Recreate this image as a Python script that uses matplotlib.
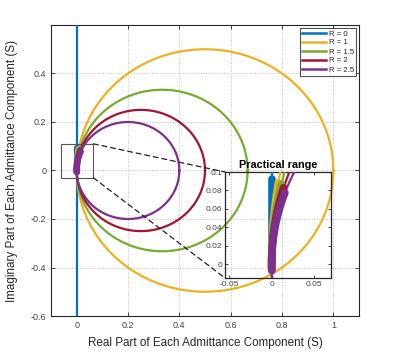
import numpy as np
import matplotlib
matplotlib.use("Agg")
import matplotlib.pyplot as plt
from matplotlib.patches import Rectangle, ConnectionPatch
from matplotlib.lines import Line2D

plt.rcParams['font.family'] = ['Liberation Sans', 'DejaVu Sans']

# ---- data ----
labels = ["R = 0", "R = 1", "R = 1.5", "R = 2", "R = 2.5"]
colors = ["#0072BD", "#EDB120", "#77AC30", "#A2142F", "#7E2F8E"]
# circle centres / radii on the real axis (R = 0 is the imaginary axis itself)
circle_center = [None, 0.5, 0.333, 0.25, 0.2]
circle_radius = [None, 0.5, 0.333, 0.25, 0.2]
# "practical range" arcs (imaginary part limits)
thick_y_bottom = [-0.005, -0.004, -0.004, -0.005, -0.007]
thick_y_top = [0.092, 0.0885, 0.0867, 0.083, 0.0776]

main_xticks = [0, 0.2, 0.4, 0.6, 0.8, 1]
main_xticklabels = ["0", "0.2", "0.4", "0.6", "0.8", "1"]
main_yticks = [-0.6, -0.4, -0.2, 0, 0.2, 0.4]
main_yticklabels = ["-0.6", "-0.4", "-0.2", "0", "0.2", "0.4"]
inset_xticks = [-0.05, 0, 0.05]
inset_xticklabels = ["-0.05", "0", "0.05"]
inset_yticks = [0, 0.02, 0.04, 0.06, 0.08, 0.1]
inset_yticklabels = ["0", "0.02", "0.04", "0.06", "0.08", "0.1"]

W, H = 397, 356
fig = plt.figure(figsize=(W / 100, H / 100), dpi=100)

def fx(px):
    return px / W

def fy(py):
    return 1 - py / H

ax = fig.add_axes([fx(51), fy(316), fx(359) - fx(51), fy(25) - fy(316)])
axin = fig.add_axes([fx(225), fy(278), fx(331) - fx(225), fy(172) - fy(278)])
axin.set_facecolor('none')

tcol = (0.15, 0.15, 0.15)


def draw(a, lw_thin, lw_thick):
    for i in range(len(labels)):
        c = colors[i]
        if circle_center[i] is None:
            a.plot([0, 0], [-1, 1], color=c, lw=lw_thin, zorder=3)
            yy = np.linspace(thick_y_bottom[i], thick_y_top[i], 50)
            xx = np.zeros_like(yy)
        else:
            t = np.linspace(0, 2 * np.pi, 600)
            a.plot(circle_center[i] + circle_radius[i] * np.cos(t),
                   circle_radius[i] * np.sin(t), color=c, lw=lw_thin, zorder=3)
            yy = np.linspace(thick_y_bottom[i], thick_y_top[i], 50)
            xx = circle_center[i] - np.sqrt(circle_radius[i] ** 2 - yy ** 2)
        a.plot(xx, yy, color=c, lw=lw_thick, solid_capstyle='round', zorder=4)


draw(ax, 1.6, 4.5)
draw(axin, 1.6, 5.5)

ax.set_xlim(-0.1, 1.1)
ax.set_ylim(-0.6, 0.6)
ax.set_xticks(main_xticks)
ax.set_xticklabels(main_xticklabels)
ax.set_yticks(main_yticks)
ax.set_yticklabels(main_yticklabels)
ax.grid(True, linestyle=':', color='#bdbdbd', lw=0.7)
ax.set_axisbelow(True)
ax.tick_params(direction='in', length=3, labelsize=6.5, colors=tcol, top=True, right=True,
               labelcolor='#444444', width=0.6)
for s in ax.spines.values():
    s.set_color(tcol)
    s.set_linewidth(0.8)
ax.set_xlabel("Real Part of Each Admittance Component (S)", fontsize=8.4, color=tcol, labelpad=5)
ax.set_ylabel("Imaginary Part of Each Admittance Component (S)", fontsize=8.4, color=tcol, labelpad=9)

# zoom rectangle
ax.add_patch(Rectangle((-0.06, -0.03), 0.125, 0.14, fill=False, ec='#555555', lw=0.8, zorder=5))

axin.set_xlim(-0.055, 0.07)
axin.set_ylim(-0.015, 0.1)
axin.set_xticks(inset_xticks)
axin.set_xticklabels(inset_xticklabels)
axin.set_yticks(inset_yticks)
axin.set_yticklabels(inset_yticklabels)
axin.tick_params(direction='in', length=2.5, labelsize=6, colors=tcol, top=True, right=True,
                 labelcolor='#444444', width=0.6, pad=2)
for s in axin.spines.values():
    s.set_color(tcol)
    s.set_linewidth(0.9)
axin.set_title("Practical range", fontsize=7.8, fontweight='bold', color='black', pad=3)

for xyA, xyB in [((0.065, 0.11), (0, 1)), ((0.065, -0.03), (0, 0))]:
    con = ConnectionPatch(xyA=xyA, coordsA=ax.transData, xyB=xyB, coordsB=axin.transAxes,
                          linestyle=(0, (4, 3)), color='#222222', lw=0.9)
    fig.add_artist(con)

handles = [Line2D([], [], color=c, lw=1.8) for c in colors]
leg = ax.legend(handles, labels, loc='upper right', fontsize=5.6, frameon=True, fancybox=False,
                edgecolor=tcol, handlelength=3.0, handletextpad=0.4, borderpad=0.3,
                labelspacing=0.2, borderaxespad=0.35)
leg.get_frame().set_linewidth(0.8)
for t in leg.get_texts():
    t.set_color(tcol)

fig.savefig("out.png", dpi=100)
